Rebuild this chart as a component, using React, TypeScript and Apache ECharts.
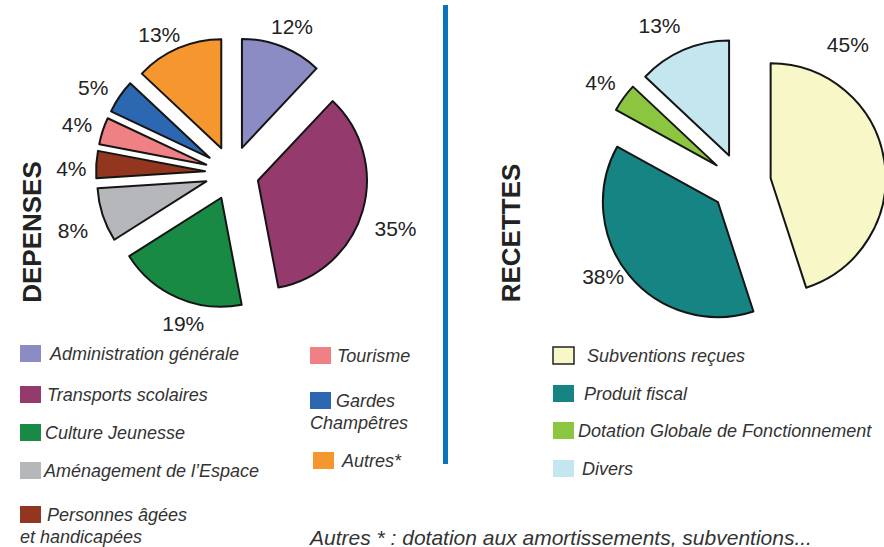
import React, { useEffect, useRef } from "react";
import * as echarts from "echarts";

// ---- Data ----
const depCategories = [
  "Administration générale",
  "Transports scolaires",
  "Culture Jeunesse",
  "Aménagement de l’Espace",
  "Personnes âgées\net handicapées",
  "Tourisme",
  "Gardes\nChampêtres",
  "Autres*",
];
const depValues = [12, 35, 19, 8, 4, 4, 5, 13];
const depColors = ["#8A8CC3", "#953A6D", "#198A44", "#B6B7BA", "#92361F", "#EF8184", "#2C68B1", "#F6962E"];

const recCategories = ["Subventions reçues", "Produit fiscal", "Dotation Globale de Fonctionnement", "Divers"];
const recValues = [45, 38, 4, 13];
const recColors = ["#F8F7C8", "#168483", "#8CC640", "#C3E6EF"];

const titles = ["DEPENSES", "RECETTES"];
const footnote = "Autres * : dotation aux amortissements, subventions...";

// ---- Layout ----
const FONT = "Liberation Sans";
const depLegendSlots = [
  { x: 20, y: 353, tx: 50 },
  { x: 20, y: 394, tx: 47 },
  { x: 20, y: 432, tx: 45 },
  { x: 20, y: 470, tx: 44 },
  { x: 20, y: 514, tx: 47 },
  { x: 310, y: 355, tx: 337 },
  { x: 310, y: 400, tx: 336 },
  { x: 313, y: 460, tx: 342 },
];
const recLegendSlots = [
  { x: 553, y: 355, tx: 587 },
  { x: 553, y: 393, tx: 584 },
  { x: 553, y: 430, tx: 578 },
  { x: 553, y: 468, tx: 582 },
];
// small label nudges (dx, dy) relative to the ring placement
const depLabelNudge = [[0, 5], [7, 10], [16, 1], [-4, 7], [2, 6], [0, 2], [-4, 6], [-8, 11]];
const recLabelNudge = [[-66, -111], [-3, -18], [1, 2], [-12, 3]];

function legendElements(names: string[], colors: string[], slots: any[], borderFirst: boolean) {
  const els: any[] = [];
  names.forEach((name, i) => {
    const s = slots[i];
    const lines = name.split("\n");
    const bordered = borderFirst && i === 0;
    els.push({
      type: "rect",
      shape: { x: s.x, y: s.y - 8, width: 21, height: 17 },
      style: { fill: colors[i], stroke: bordered ? "#222" : null, lineWidth: bordered ? 1.5 : 0 },
      silent: true,
    });
    lines.forEach((ln, j) => {
      els.push({
        type: "text",
        x: j === 0 ? s.tx : s.x,
        y: s.y + 1 + j * 22,
        silent: true,
        style: {
          text: ln,
          fill: "#333",
          fontFamily: FONT,
          fontStyle: "italic",
          fontSize: 18,
          align: "left",
          verticalAlign: "middle",
        },
      });
    });
  });
  return els;
}

function pieSeries(values: number[], names: string[], colors: string[], center: number[], r: number, offset: number) {
  return {
    type: "pie",
    center,
    radius: r,
    startAngle: 90,
    clockwise: true,
    selectedMode: "multiple",
    selectedOffset: offset,
    avoidLabelOverlap: false,
    silent: true,
    data: values.map((v, i) => ({
      name: names[i],
      value: v,
      selected: true,
      itemStyle: { color: colors[i] },
    })),
    itemStyle: { borderColor: "#151515", borderWidth: 2 },
    select: { itemStyle: { borderColor: "#151515", borderWidth: 2 } },
    emphasis: { disabled: true },
    label: { show: false },
    labelLine: { show: false },
  };
}

function labelSeries(values: number[], names: string[], center: number[], r0: number, r1: number, nudges: number[][]) {
  return {
    type: "pie",
    center,
    radius: [r0, r1],
    startAngle: 90,
    clockwise: true,
    avoidLabelOverlap: false,
    silent: true,
    data: values.map((v, i) => ({ name: names[i] + " ", value: v })),
    itemStyle: { color: "rgba(0,0,0,0)", borderWidth: 0 },
    emphasis: { disabled: true },
    label: {
      show: true,
      position: "inside",
      formatter: "{c}%",
      fontSize: 21,
      fontFamily: FONT,
      color: "#222",
    },
    labelLine: { show: false },
    labelLayout: (p: any) => {
      const n = nudges[p.dataIndex];
      return n ? { dx: n[0], dy: n[1] } : {};
    },
  };
}

export default function App() {
  const ref = useRef<HTMLDivElement>(null);
  useEffect(() => {
    if (!ref.current) return;
    const chart = echarts.init(ref.current, null, { renderer: "svg" });
    const graphics: any[] = [
      {
        type: "line",
        shape: { x1: 445.5, y1: 5, x2: 445.5, y2: 464 },
        style: { stroke: "#0A72BD", lineWidth: 5 },
        silent: true,
      },
      {
        type: "text",
        x: 32,
        y: 232,
        rotation: Math.PI / 2,
        silent: true,
        style: {
          text: titles[0],
          fill: "#222",
          fontFamily: FONT,
          fontWeight: "bold",
          fontSize: 26,
          align: "center",
          verticalAlign: "middle",
        },
      },
      {
        type: "text",
        x: 511,
        y: 233,
        rotation: Math.PI / 2,
        silent: true,
        style: {
          text: titles[1],
          fill: "#222",
          fontFamily: FONT,
          fontWeight: "bold",
          fontSize: 26,
          align: "center",
          verticalAlign: "middle",
        },
      },
      {
        type: "text",
        x: 310,
        y: 537,
        silent: true,
        style: {
          text: footnote,
          fill: "#333",
          fontFamily: FONT,
          fontStyle: "italic",
          fontSize: 21,
          align: "left",
          verticalAlign: "middle",
        },
      },
      ...legendElements(depCategories, depColors, depLegendSlots, false),
      ...legendElements(recCategories, recColors, recLegendSlots, true),
    ];
    chart.setOption({
      animation: false,
      backgroundColor: "#ffffff",
      series: [
        pieSeries(depValues, depCategories, depColors, [232, 173], 109, 27),
        labelSeries(depValues, depCategories, [232, 173], 148, 172, depLabelNudge),
        pieSeries(recValues, recCategories, recColors, [741, 183], 115, 30),
        labelSeries(recValues, recCategories, [741, 183], 160, 184, recLabelNudge),
      ],
      graphic: graphics,
    });
    return () => chart.dispose();
  }, []);
  return (
    <div
      ref={ref}
      style={{ position: "fixed", left: 0, top: 0, width: 884, height: 547, background: "#fff" }}
    />
  );
}
